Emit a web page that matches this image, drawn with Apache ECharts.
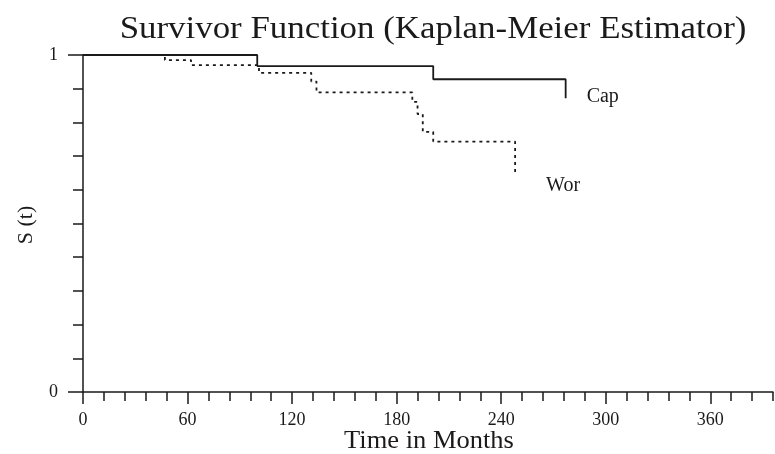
<!DOCTYPE html>
<html>
<head>
<meta charset="utf-8">
<script src="https://cdn.jsdelivr.net/npm/echarts@6/dist/echarts.min.js"></script>
<style>
  html, body { margin: 0; padding: 0; background: #fff; }
  #chart { width: 775px; height: 454px; }
</style>
</head>
<body>
<div id="chart"></div>
<script>
// Kaplan-Meier step estimates (time in months, survival probability)
const capTimes    = [0, 100, 201, 277];
const capSurvival = [1, 0.967, 0.928, 0.872];
const worTimes    = [0, 47, 62, 101, 131, 134, 189, 192, 195, 201, 248];
const worSurvival = [1, 0.985, 0.970, 0.947, 0.921, 0.889, 0.861, 0.825, 0.772, 0.743, 0.649];
const xMajorTicks = [0, 60, 120, 180, 240, 300, 360];
const yLabelTicks = [0, 1];
const seriesNames = ['Cap', 'Wor'];

const FONT = '"Liberation Serif", "Times New Roman", serif';
const INK = '#1a1a1a';

const zip = (xs, ys) => xs.map((x, i) => [x, ys[i]]);

const chart = echarts.init(document.getElementById('chart'));

chart.setOption({
  backgroundColor: '#fff',
  animation: false,
  grid: { left: 83, right: 2, top: 55, bottom: 62, containLabel: false, outerBoundsMode: 'none' },
  graphic: [
    {
      type: 'text', x: 433, y: 30, scaleX: 1.09,
      style: { text: 'Survivor Function (Kaplan-Meier Estimator)', font: '32px ' + FONT, fill: INK,
               align: 'center', verticalAlign: 'middle' }
    },
    {
      type: 'text', x: 26, y: 225, rotation: Math.PI / 2,
      style: { text: 'S (t)', font: '22px ' + FONT, fill: INK, align: 'center', verticalAlign: 'middle' }
    },
    {
      type: 'text', x: 429, y: 441, scaleX: 1.06,
      style: { text: 'Time in Months', font: '25px ' + FONT, fill: INK, align: 'center', verticalAlign: 'middle' }
    }
  ],
  xAxis: [
    {
      type: 'value', min: 0, max: 396, interval: 12,
      axisLine: { show: true, lineStyle: { color: INK, width: 1.5 } },
      axisTick: { show: true, length: 9, lineStyle: { color: INK, width: 1.5 } },
      axisLabel: { show: false },
      splitLine: { show: false }
    },
    {
      type: 'value', min: 0, max: 396, interval: 60, position: 'bottom',
      axisLine: { show: false },
      axisTick: { show: true, length: 12, customValues: xMajorTicks, lineStyle: { color: INK, width: 1.5 } },
      axisLabel: { customValues: xMajorTicks, margin: 19, fontFamily: FONT, fontSize: 18, color: INK },
      splitLine: { show: false }
    }
  ],
  yAxis: [
    {
      type: 'value', min: 0, max: 1, interval: 0.1,
      axisLine: { show: true, lineStyle: { color: INK, width: 1.5 } },
      axisTick: { show: true, length: 10, lineStyle: { color: INK, width: 1.5 } },
      axisLabel: { show: false },
      splitLine: { show: false }
    },
    {
      type: 'value', min: 0, max: 1, interval: 1, position: 'left',
      axisLine: { show: false },
      axisTick: { show: true, length: 15, customValues: yLabelTicks, lineStyle: { color: INK, width: 1.5 } },
      axisLabel: { customValues: yLabelTicks, margin: 25, fontFamily: FONT, fontSize: 18, color: INK },
      splitLine: { show: false }
    }
  ],
  series: [
    {
      name: seriesNames[0], type: 'line', step: 'end', xAxisIndex: 0, yAxisIndex: 0,
      data: zip(capTimes, capSurvival), symbol: 'none',
      lineStyle: { color: INK, width: 1.8 },
      endLabel: { show: true, formatter: '{a}', offset: [13, -1], fontFamily: FONT, fontSize: 20, color: INK }
    },
    {
      name: seriesNames[1], type: 'line', step: 'end', xAxisIndex: 0, yAxisIndex: 0,
      data: zip(worTimes, worSurvival), symbol: 'none',
      lineStyle: { color: INK, width: 1.8, type: [3, 4] },
      endLabel: { show: true, formatter: '{a}', offset: [23, 12], fontFamily: FONT, fontSize: 20, color: INK }
    }
  ]
});
</script>
</body>
</html>
